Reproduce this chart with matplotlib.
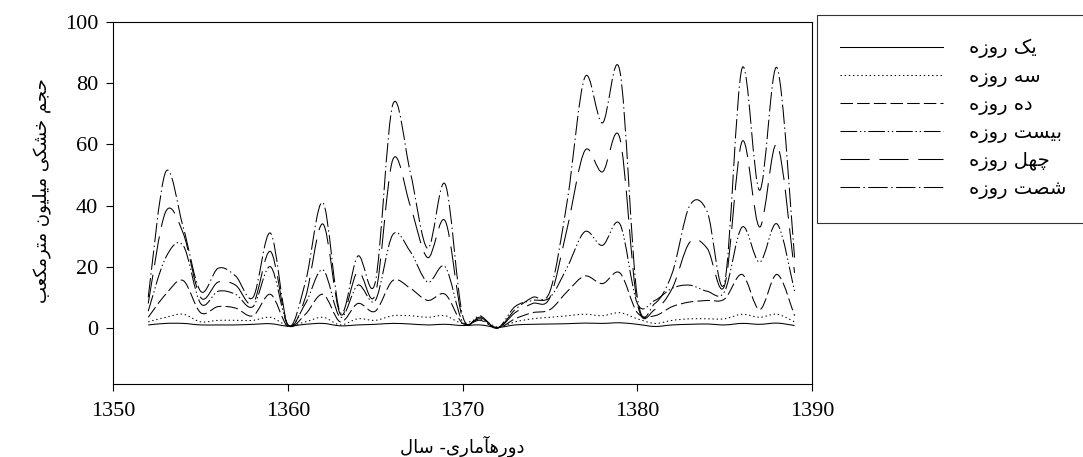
import matplotlib
matplotlib.use("Agg")
import matplotlib.pyplot as plt
from matplotlib.path import Path
from matplotlib.patches import PathPatch
from matplotlib.lines import Line2D

# sal (years)
years = [1352, 1353, 1354, 1355, 1356, 1357, 1358, 1359, 1360, 1361,
         1362, 1363, 1364, 1365, 1366, 1367, 1368, 1369, 1370, 1371,
         1372, 1373, 1374, 1375, 1376, 1377, 1378, 1379, 1380, 1381,
         1382, 1383, 1384, 1385, 1386, 1387, 1388, 1389]

d1 = [1.0, 1.5, 1.5, 1.0, 1.0, 1.0, 1.2, 1.4, 0.6, 1.2,
      1.5, 0.7, 1.0, 1.2, 1.5, 1.3, 1.0, 1.2, 0.8, 1.0,
      0.2, 1.0, 1.2, 1.3, 1.4, 1.6, 1.5, 1.7, 1.2, 0.5,
      1.0, 1.2, 1.3, 1.0, 1.5, 1.2, 1.6, 0.8]
d3 = [2.0, 3.5, 4.5, 2.0, 2.5, 2.5, 2.5, 3.5, 0.8, 2.0,
      3.5, 1.0, 3.0, 2.5, 4.0, 4.0, 3.5, 4.0, 1.5, 3.0,
      0.3, 2.0, 3.0, 3.5, 4.0, 4.5, 4.0, 5.0, 3.0, 1.5,
      2.5, 3.0, 3.0, 3.0, 4.5, 3.5, 4.5, 2.0]
d10 = [3.5, 11, 15.5, 5, 7, 6.5, 4, 11, 0.5, 4.5,
       11, 2, 8, 5.5, 15.5, 13, 9, 11, 1.5, 2.5,
       0, 3, 5, 6, 12, 17, 14.5, 18, 5, 4,
       7, 8.5, 9, 9.5, 17.5, 6, 17.5, 4]
d20 = [5.5, 23, 27, 8, 12, 11, 7, 20, 1, 8,
       19, 3.5, 14, 9, 30.5, 25, 15, 20, 2, 3,
       0, 7, 9, 10, 20, 31.5, 27, 34, 8, 9,
       13, 14, 12, 12, 33, 21.5, 34, 12]
d40 = [8, 38, 31, 10, 15, 14, 8, 25, 1, 10,
       34, 4.5, 18.5, 11, 55, 40, 23, 35, 3, 3.5,
       0, 5, 8, 10, 33, 58, 51, 62, 8, 6,
       13, 28, 26, 14, 61, 33, 60, 18]
d60 = [10, 51, 33, 12, 19.5, 17, 10, 31, 1, 15,
       41, 5, 23.5, 15, 73, 51, 26, 47, 4, 4,
       0, 6, 10, 12, 42, 82, 67, 84, 10, 8,
       18, 40, 38, 15, 85, 45, 85, 23]

labels = ["یک روزه", "سه روزه", "ده روزه", "بیست روزه", "چهل روزه", "شصت روزه"]
xlabel = "دورهآماری- سال"
ylabel = "حجم خشکی میلیون مترمکعب"

# matplotlib does no arabic shaping, so pick presentation forms by hand
FORMS = {
    'ا': (0xFE8D, 0xFE8E, None, None),
    'آ': (0xFE81, 0xFE82, None, None),
    'ب': (0xFE8F, 0xFE90, 0xFE91, 0xFE92),
    'ت': (0xFE95, 0xFE96, 0xFE97, 0xFE98),
    'ج': (0xFE9D, 0xFE9E, 0xFE9F, 0xFEA0),
    'چ': (0xFB7A, 0xFB7B, 0xFB7C, 0xFB7D),
    'ح': (0xFEA1, 0xFEA2, 0xFEA3, 0xFEA4),
    'خ': (0xFEA5, 0xFEA6, 0xFEA7, 0xFEA8),
    'د': (0xFEA9, 0xFEAA, None, None),
    'ر': (0xFEAD, 0xFEAE, None, None),
    'ز': (0xFEAF, 0xFEB0, None, None),
    'س': (0xFEB1, 0xFEB2, 0xFEB3, 0xFEB4),
    'ش': (0xFEB5, 0xFEB6, 0xFEB7, 0xFEB8),
    'ص': (0xFEB9, 0xFEBA, 0xFEBB, 0xFEBC),
    'ع': (0xFEC9, 0xFECA, 0xFECB, 0xFECC),
    'ک': (0xFB8E, 0xFB8F, 0xFB90, 0xFB91),
    'ل': (0xFEDD, 0xFEDE, 0xFEDF, 0xFEE0),
    'م': (0xFEE1, 0xFEE2, 0xFEE3, 0xFEE4),
    'ن': (0xFEE5, 0xFEE6, 0xFEE7, 0xFEE8),
    'ه': (0xFEE9, 0xFEEA, 0xFEEB, 0xFEEC),
    'و': (0xFEED, 0xFEEE, None, None),
    'ی': (0xFBFC, 0xFBFD, 0xFBFE, 0xFBFF),
}

def shape(s):
    out = []
    for i, ch in enumerate(s):
        if ch not in FORMS:
            out.append(ch)
            continue
        prev = s[i-1] if i > 0 else ''
        nxt = s[i+1] if i + 1 < len(s) else ''
        iso, fin, ini, med = FORMS[ch]
        jp = prev in FORMS and FORMS[prev][2] is not None
        jn = ini is not None and nxt in FORMS
        if jp and jn:
            c = med
        elif jp:
            c = fin
        elif jn:
            c = ini
        else:
            c = iso
        out.append(chr(c))
    return ''.join(reversed(out))

def smooth(x, y):
    # excel style smoothed line (bezier through the points)
    n = len(x)
    verts = [(x[0], y[0])]
    codes = [Path.MOVETO]
    for i in range(n - 1):
        xa, ya = (x[i-1], y[i-1]) if i > 0 else (x[i], y[i])
        xb, yb = (x[i+2], y[i+2]) if i + 2 < n else (x[i+1], y[i+1])
        verts.append((x[i] + (x[i+1] - xa) / 6, y[i] + (y[i+1] - ya) / 6))
        verts.append((x[i+1] - (xb - x[i]) / 6, y[i+1] - (yb - y[i]) / 6))
        verts.append((x[i+1], y[i+1]))
        codes += [Path.CURVE4] * 3
    return Path(verts, codes)

plt.rcParams['lines.scale_dashes'] = False
plt.rcParams['font.family'] = ['Liberation Serif', 'DejaVu Sans']

series = [d1, d3, d10, d20, d40, d60]
styles = ['-', (0, (1, 2)), (0, (9, 3)), (0, (12, 2, 1, 2, 1, 2)),
          (0, (21, 7)), (0, (14, 2.5, 1, 2.5))]

fig = plt.figure(figsize=(10.83, 4.57), dpi=100)
ax = fig.add_axes([0.1046, 0.1591, 0.6452, 0.7928])

handles = []
for vals, ls, lab in zip(series, styles, labels):
    ax.add_patch(PathPatch(smooth(years, vals), fill=False, edgecolor='black',
                           lw=0.75, linestyle=ls))
    handles.append(Line2D([], [], color='black', lw=0.75, linestyle=ls))

ax.set_xlim(1350, 1390)
ax.set_ylim(-18.4, 100)
ax.set_xticks([1350, 1360, 1370, 1380, 1390])
ax.set_yticks([0, 20, 40, 60, 80, 100])
ax.tick_params(direction='out', length=5, width=0.8, labelsize=16)
ax.tick_params(axis='x', pad=8)
ax.tick_params(axis='y', pad=6)
for sp in ax.spines.values():
    sp.set_linewidth(0.8)

ax.set_xlabel(shape(xlabel), family='DejaVu Sans', fontsize=13, labelpad=10)
ax.set_ylabel(shape(ylabel), family='DejaVu Sans', fontsize=13)
ax.yaxis.set_label_coords(-0.089, 0.535)

leg = fig.legend(handles, [shape(l) for l in labels], loc='upper left',
                 bbox_to_anchor=(0.7544, 0.967), bbox_transform=fig.transFigure,
                 prop={'family': 'DejaVu Sans', 'size': 14}, frameon=True,
                 fancybox=False, edgecolor='black', borderaxespad=0,
                 handlelength=5.3, handletextpad=1.3, labelspacing=0.42,
                 borderpad=1.2)
leg.get_frame().set_linewidth(0.8)

fig.savefig('out.png', dpi=100)
